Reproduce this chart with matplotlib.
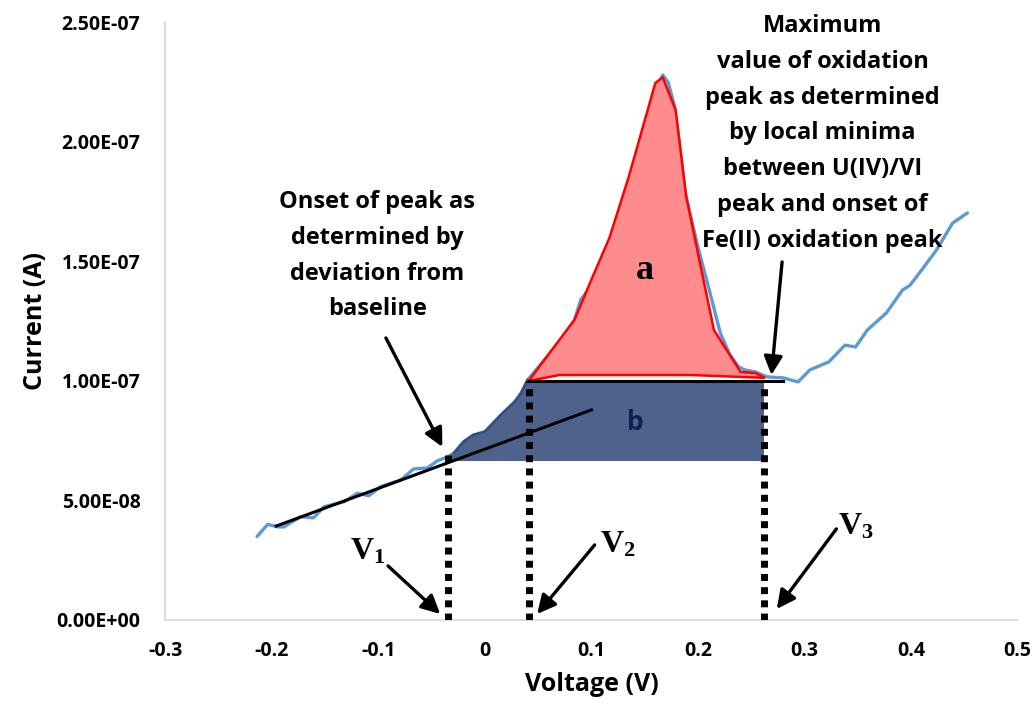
import matplotlib
matplotlib.use("Agg")
import matplotlib.pyplot as plt
import numpy as np

plt.rcParams['font.family'] = ['Open Sans', 'DejaVu Sans']
plt.rcParams['font.weight'] = 'bold'
plt.rcParams['mathtext.fontset'] = 'custom'
plt.rcParams['mathtext.rm'] = 'Liberation Serif:bold'
plt.rcParams['mathtext.bf'] = 'Liberation Serif:bold'

# voltammogram (V, 1e-7 A)
volt = [-0.214, -0.204, -0.195, -0.189, -0.173, -0.161, -0.151, -0.132, -0.120, -0.109,
        -0.098, -0.079, -0.067, -0.054, -0.045, -0.035, -0.029, -0.020, -0.011, 0.000,
        0.015, 0.028, 0.034, 0.040, 0.058, 0.073, 0.084, 0.090, 0.097, 0.117,
        0.135, 0.149, 0.160, 0.167, 0.172, 0.178, 0.183, 0.188, 0.200, 0.213,
        0.221, 0.230, 0.238, 0.244, 0.254, 0.265, 0.280, 0.294, 0.305, 0.323,
        0.338, 0.348, 0.359, 0.377, 0.392, 0.399, 0.410, 0.424, 0.439, 0.453]
current = [0.349, 0.400, 0.390, 0.389, 0.432, 0.427, 0.474, 0.495, 0.530, 0.520,
           0.558, 0.586, 0.632, 0.636, 0.665, 0.683, 0.699, 0.746, 0.774, 0.788,
           0.858, 0.913, 0.950, 1.004, 1.100, 1.184, 1.255, 1.340, 1.380, 1.590,
           1.828, 2.020, 2.230, 2.280, 2.250, 2.150, 1.980, 1.790, 1.560, 1.340,
           1.200, 1.110, 1.060, 1.046, 1.038, 1.017, 1.013, 0.996, 1.046, 1.080,
           1.150, 1.142, 1.213, 1.285, 1.380, 1.400, 1.464, 1.548, 1.660, 1.703]

# area "a" outline (V, 1e-7 A)
peak_v = [0.041, 0.084, 0.099, 0.117, 0.135, 0.160, 0.167, 0.179, 0.189, 0.215,
          0.240, 0.254, 0.263, 0.193, 0.070]
peak_i = [1.000, 1.255, 1.414, 1.600, 1.854, 2.247, 2.270, 2.134, 1.770, 1.213,
          1.038, 1.033, 1.013, 1.025, 1.025]

# baseline fit end points
base_v = [-0.196, 0.100]
base_i = [0.393, 0.879]

# characteristic voltages and levels
v1, v2, v3 = -0.035, 0.041, 0.262
v1_top = 0.69
peak_level = 1.0
b_low = 0.665
max_line_end = 0.280

xticks = [-0.3, -0.2, -0.1, 0, 0.1, 0.2, 0.3, 0.4, 0.5]
xtick_labels = ['-0.3', '-0.2', '-0.1', '0', '0.1', '0.2', '0.3', '0.4', '0.5']
yticks = [0, 0.5e-7, 1.0e-7, 1.5e-7, 2.0e-7, 2.5e-7]

E = 1e-7
volt = np.array(volt)
cur = np.array(current) * E

fig = plt.figure(figsize=(10.36, 7.07), dpi=100)
ax = fig.add_axes([0.1597, 0.1231, 0.8224, 0.8451])

ax.plot(volt, cur, color='#5B9BD5', lw=2.4, zorder=2, solid_capstyle='round')

# area b: under curve from v1 to v2, then box to v3
m = (volt > v1) & (volt < v2)
bx = [v1, v1] + list(volt[m]) + [v2, v3, v3]
by = [b_low * E, np.interp(v1, volt, cur)] + list(cur[m]) + [peak_level * E, peak_level * E, b_low * E]
ax.fill(bx, by, color='#4F628C', lw=0, zorder=3)
ax.plot(volt[m], cur[m], color='#2F4F86', lw=1.8, zorder=3)

# area a
ax.fill(peak_v, np.array(peak_i) * E, facecolor='#FF8C8C', edgecolor='#FF0000', lw=1.8, zorder=4)

# baseline and peak level line
ax.plot(base_v, np.array(base_i) * E, color='black', lw=2.2, zorder=5)
ax.plot([v2, max_line_end], [peak_level * E, peak_level * E], color='black', lw=2.2, zorder=5)

# dotted verticals
for v, top in [(v1, v1_top), (v2, peak_level), (v3, peak_level)]:
    ax.plot([v, v], [0, top * E], color='black', lw=5, linestyle=(0, (1.0, 0.9)),
            dash_capstyle='butt', zorder=6)

# arrows
arrows = [((-0.093, 1.180), (-0.040, 0.724)),
          ((0.279, 1.498), (0.269, 1.025)),
          ((-0.091, 0.226), (-0.042, 0.025)),
          ((0.103, 0.314), (0.049, 0.025)),
          ((0.330, 0.381), (0.274, 0.046))]
for (x0, y0), (x1, y1) in arrows:
    ax.annotate('', xy=(x1, y1 * E), xytext=(x0, y0 * E),
                arrowprops=dict(arrowstyle='-|>', lw=2.4, color='black',
                                mutation_scale=28, shrinkA=0, shrinkB=0),
                zorder=7)

# labels on the chart
ax.text(-0.110, 0.289 * E, r'$\mathbf{V_1}$', fontsize=23, ha='center', va='center')
ax.text(0.125, 0.318 * E, r'$\mathbf{V_2}$', fontsize=23, ha='center', va='center')
ax.text(0.348, 0.393 * E, r'$\mathbf{V_3}$', fontsize=23, ha='center', va='center')
ax.text(0.150, 1.464 * E, 'a', family='Liberation Serif', fontsize=26, fontweight='bold',
        ha='center', va='center', zorder=8)
ax.text(0.141, 0.828 * E, 'b', fontsize=19, fontweight='bold', color='#102050',
        ha='center', va='center', zorder=8)

onset_lines = ['Onset of peak as', 'determined by', 'deviation from', 'baseline']
for i, line in enumerate(onset_lines):
    ax.text(-0.101, (1.724 - i * 0.1498) * E, line, fontsize=17, fontweight='bold',
            ha='center', va='baseline')

max_lines = ['Maximum', 'value of oxidation', 'peak as determined', 'by local minima',
             'between U(IV)/VI', 'peak and onset of', 'Fe(II) oxidation peak']
for i, line in enumerate(max_lines):
    ax.text(0.317, (2.460 - i * 0.1498) * E, line, fontsize=17, fontweight='bold',
            ha='center', va='baseline', zorder=8)

ax.set_xlim(-0.3, 0.5)
ax.set_ylim(0, 2.5e-7)
ax.set_xticks(xticks)
ax.set_xticklabels(xtick_labels, fontweight='bold')
ax.set_yticks(yticks)
ax.set_yticklabels(['{:.2E}'.format(t) for t in yticks], fontweight='bold')
ax.tick_params(length=0, labelsize=14)
ax.tick_params(axis='y', pad=18)
ax.tick_params(axis='x', pad=15)

for s in ['top', 'right']:
    ax.spines[s].set_visible(False)
for s in ['left', 'bottom']:
    ax.spines[s].set_color('#D9D9D9')
    ax.spines[s].set_linewidth(1.3)

ax.set_xlabel('Voltage (V)', fontsize=18, fontweight='bold', labelpad=8)
ax.set_ylabel('Current (A)', fontsize=18, fontweight='bold', labelpad=6)

fig.savefig('out.png', dpi=100)
